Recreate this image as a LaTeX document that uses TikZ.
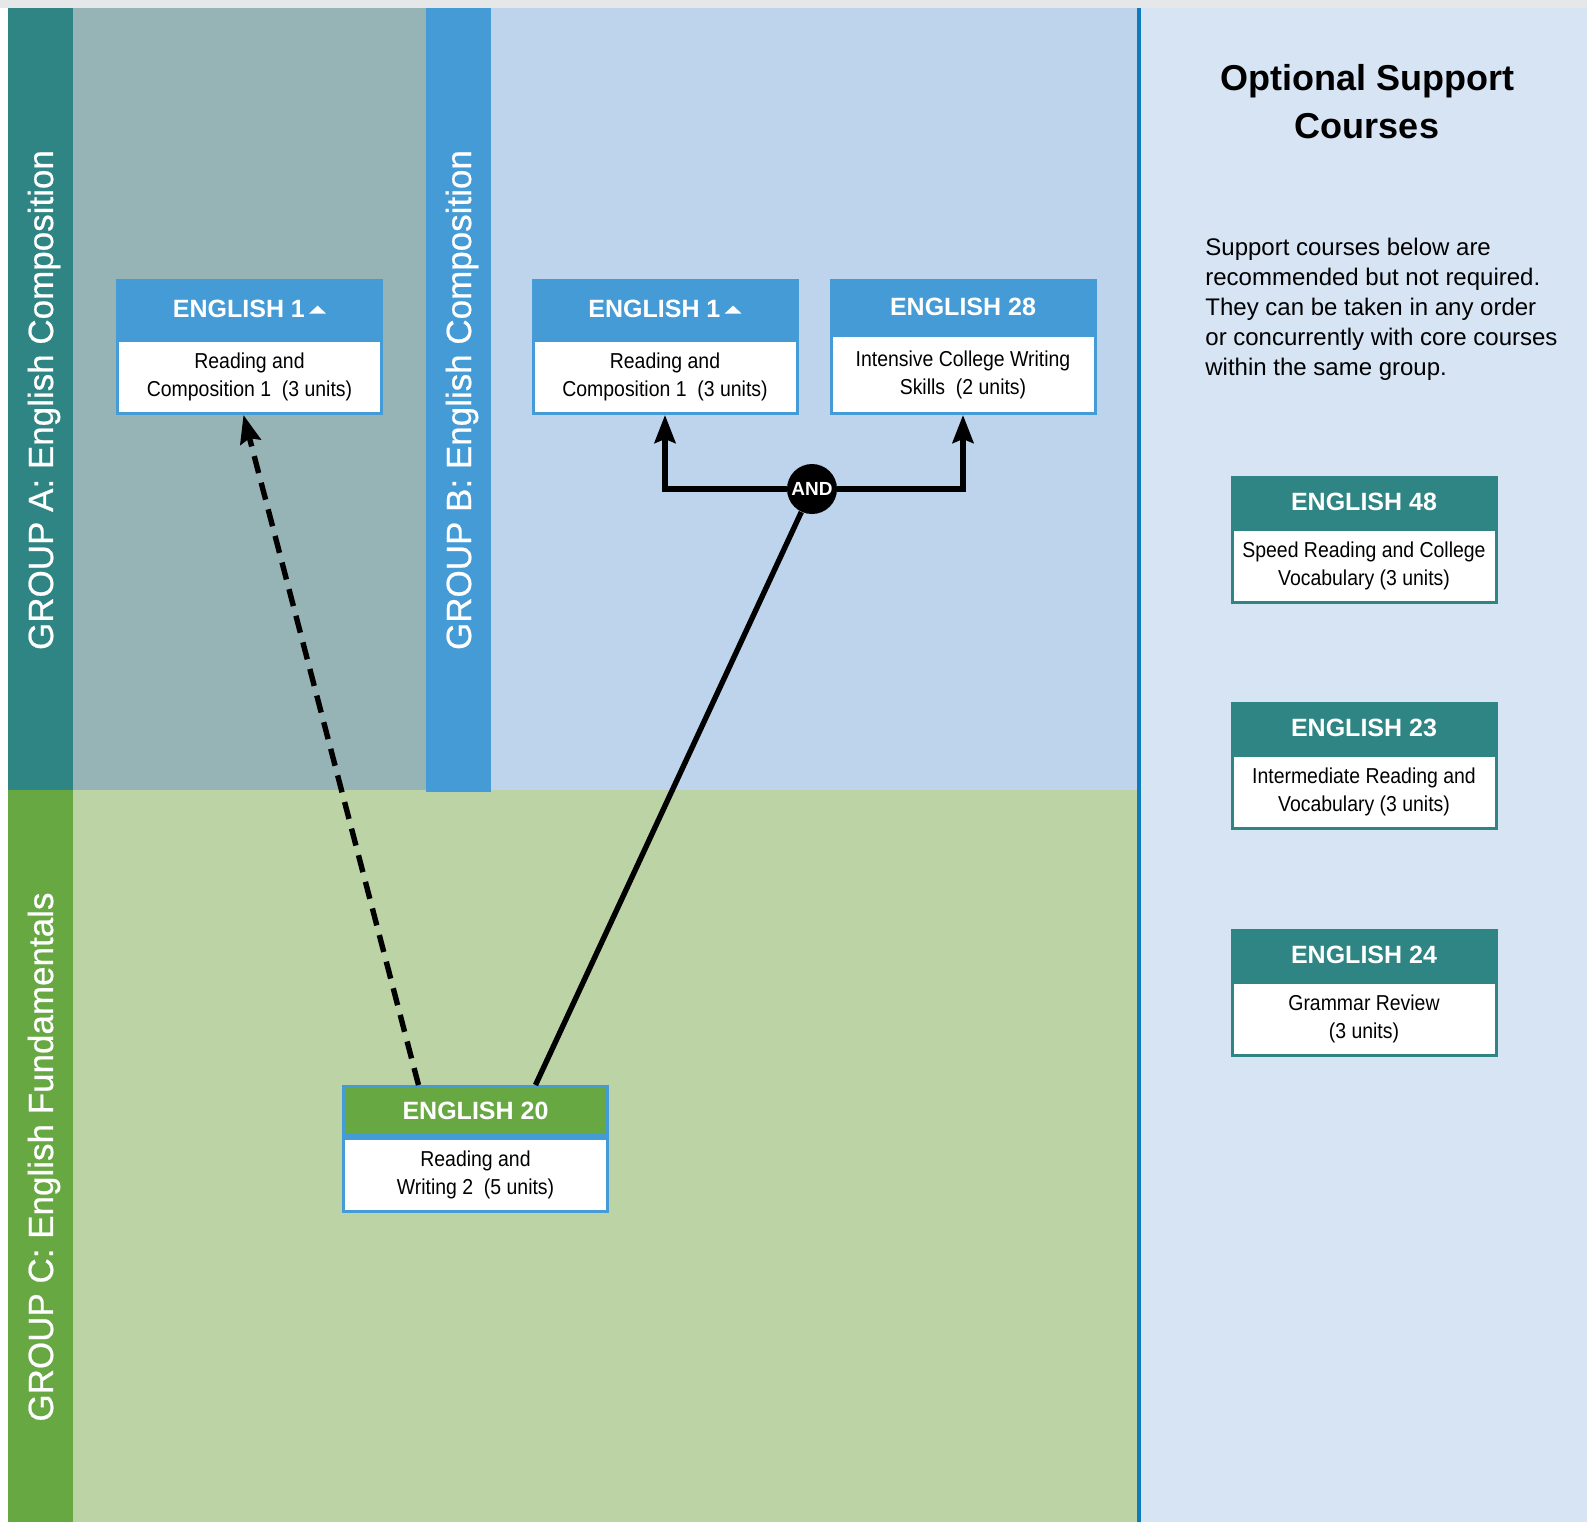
\documentclass[tikz,border=0pt]{standalone}
\usepackage{fontspec}
\setmainfont{Liberation Sans}
\newfontfamily\condfont[FakeStretch=0.9]{Liberation Sans}
\newfontfamily\labelfont[FakeBold=0.6]{Liberation Sans}
\usetikzlibrary{positioning,arrows.meta}

\definecolor{topgray}{HTML}{E6E7E8}
\definecolor{tealstrip}{HTML}{2E8583}
\definecolor{groupa}{HTML}{96B4B6}
\definecolor{bluestrip}{HTML}{449BD6}
\definecolor{groupb}{HTML}{BDD4EC}
\definecolor{divider}{HTML}{0E7BBC}
\definecolor{optpanel}{HTML}{D6E4F4}
\definecolor{greenstrip}{HTML}{67A843}
\definecolor{groupc}{HTML}{BCD3A5}

\newcommand{\uptri}{\,\raisebox{2pt}{\tikz\fill[white] (0pt,0pt) -- (8.5pt,0pt) -- (4.25pt,4pt) -- cycle;}}

\tikzset{
  grouplabel/.style={rotate=90, anchor=base, inner sep=0pt, text=white,
    font=\labelfont\fontsize{17.5}{20}\selectfont},
  crshead/.style={fill=#1, draw=#1, line width=1.5pt, text=white, inner sep=0pt,
    minimum width=132pt, minimum height=24.5pt, anchor=north,
    font=\bfseries\fontsize{12.5}{15}\selectfont},
  crsbody/.style={fill=white, draw=#1, line width=1.5pt, align=center, inner sep=0pt,
    minimum width=132pt, minimum height=36.5pt,
    font=\condfont\fontsize{10.8}{14}\selectfont},
  andnode/.style={circle, fill=black, text=white, inner sep=0pt, minimum size=25pt,
    font=\bfseries\fontsize{9.5}{11}\selectfont},
  link/.style={line width=2.7pt, black},
}

\begin{document}
\begin{tikzpicture}[x=0.5pt, y=-0.5pt, >={Stealth[length=14pt,width=10.5pt,inset=2pt]}]
  \useasboundingbox (0,0) rectangle (1587,1522);

  % background
  \fill[white] (0,0) rectangle (1587,1522);
  \fill[topgray] (0,0) rectangle (1587,8);
  \fill[tealstrip] (8,8) rectangle (73,790);
  \fill[groupa] (73,8) rectangle (426,790);
  \fill[groupb] (491,8) rectangle (1137,790);
  \fill[greenstrip] (8,790) rectangle (73,1522);
  \fill[groupc] (73,790) rectangle (1137,1522);
  \fill[bluestrip] (426,8) rectangle (491,792);
  \fill[divider] (1137,8) rectangle (1141,1522);
  \fill[optpanel] (1141,8) rectangle (1587,1522);

  % group labels
  \node[grouplabel] (grpa) at (53,400) {GROUP A: English Composition};
  \node[grouplabel] (grpb) at (471,400) {GROUP B: English Composition};
  \node[grouplabel] (grpc) at (53,1157) {GROUP C: English Fundamentals};

  % group A
  \node[crshead=bluestrip, minimum height=28.5pt] (e1a) at (249.5,279) {ENGLISH 1\uptri};
  \node[crsbody=bluestrip, below=0pt of e1a] (e1a-body) {Reading and\\Composition 1~~(3 units)};

  % group B
  \node[crshead=bluestrip, minimum height=28.5pt] (e1b) at (665,279) {ENGLISH 1\uptri};
  \node[crsbody=bluestrip, below=0pt of e1b] (e1b-body) {Reading and\\Composition 1~~(3 units)};
  \node[crshead=bluestrip, minimum height=26pt] (e28) at (963,279) {ENGLISH 28};
  \node[crsbody=bluestrip, minimum height=39pt, below=0pt of e28] (e28-body) {Intensive College Writing\\Skills~~(2 units)};

  % group C
  \node[crshead=greenstrip, draw=bluestrip] (e20) at (475.5,1085) {ENGLISH 20};
  \node[crsbody=bluestrip, below=0pt of e20] (e20-body) {Reading and\\Writing 2~~(5 units)};

  % optional support courses
  \node[align=center, anchor=north, inner sep=0pt,
        font=\bfseries\fontsize{18}{24}\selectfont] (opttitle) at (1367,64) {Optional Support\\Courses};
  \node[align=left, anchor=north west, inner sep=0pt,
        font=\fontsize{12}{15}\selectfont] (optnote) at (1205,238)
    {Support courses below are\\recommended but not required.\\They can be taken in any order\\or concurrently with core courses\\within the same group.};
  \foreach \name/\num/\top/\desc in {e48/48/476/{Speed Reading and College\\Vocabulary (3 units)},
                                     e23/23/702/{Intermediate Reading and\\Vocabulary (3 units)},
                                     e24/24/929/{Grammar Review\\(3 units)}}
  {
    \node[crshead=tealstrip] (\name) at (1364,\top) {ENGLISH \num};
    \node[crsbody=tealstrip, below=0pt of \name] (\name-body) {\desc};
  }

  % prerequisites
  \node[andnode] (and) at (812,489) {AND};
  \draw[link,->] (and.west) -| (e1b-body.south);
  \draw[link,->] (and.east) -| (e28-body.south);
  \draw[link] ([xshift=30pt]e20.north) -- (and);
  \draw[link,->,dash pattern=on 8.75pt off 5pt] ([xshift=-28.5pt]e20.north) -- ([xshift=-3pt]e1a-body.south);
\end{tikzpicture}
\end{document}
